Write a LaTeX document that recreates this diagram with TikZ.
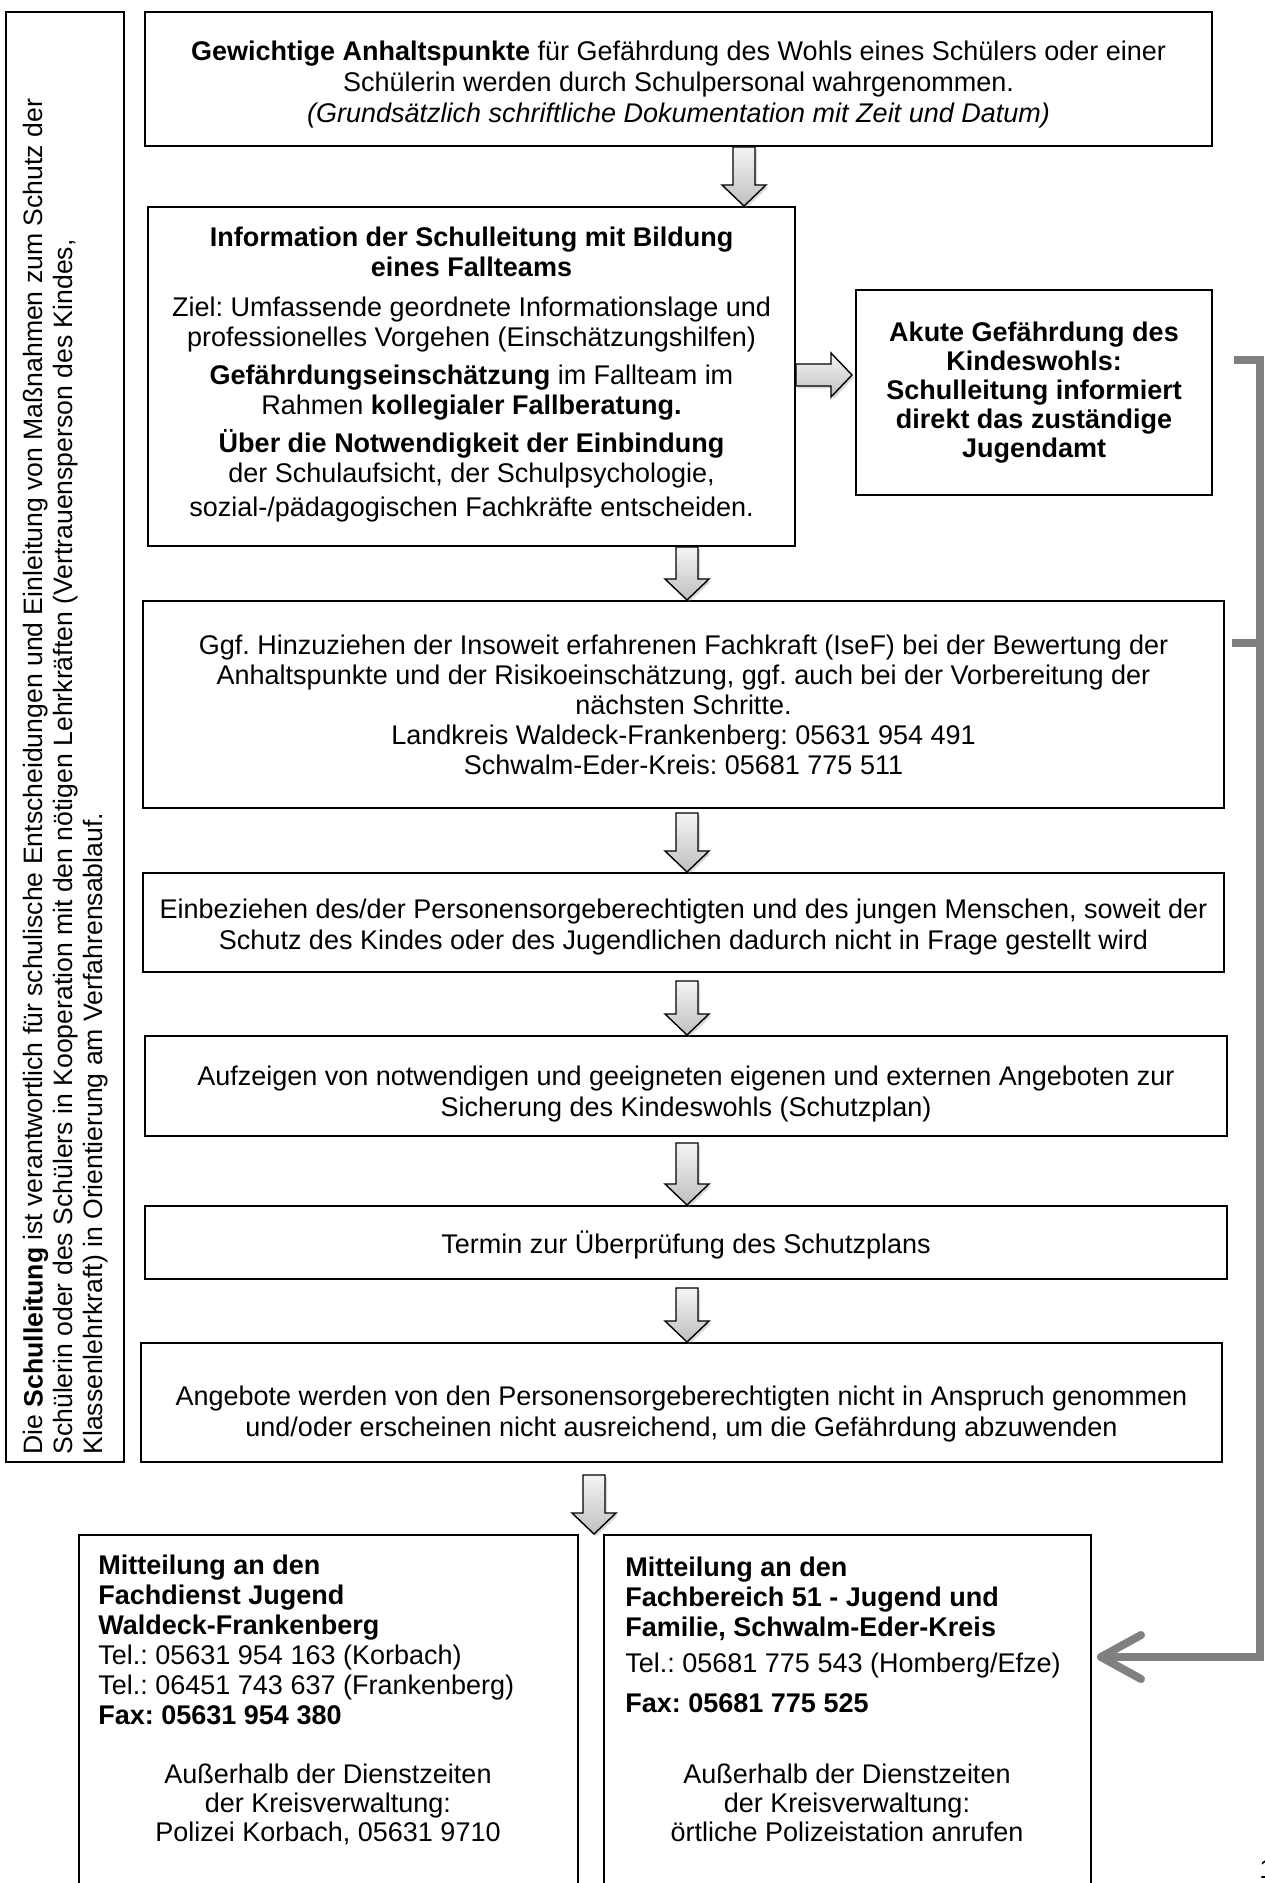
\documentclass[tikz,border=0pt]{standalone}
\usepackage{fontspec}
\setmainfont{Liberation Sans}
\frenchspacing
\usetikzlibrary{calc,arrows.meta,shadows}
\newcommand{\DArrow}[2]{%
  \path[barrow] let \p1=#1, \p2=#2 in
    (\x1-5.5pt,\y1) -- (\x1+5.5pt,\y1) -- (\x1+5.5pt,\y2+10.5pt) -- (\x1+11pt,\y2+10.5pt)
    -- (\x1,\y2) -- (\x1-11pt,\y2+10.5pt) -- (\x1-5.5pt,\y2+10.5pt) -- cycle;}
\newcommand{\RArrow}[2]{%
  \path[barrow] let \p1=#1, \p2=#2 in
    (\x1,\y1+5.5pt) -- (\x1,\y1-5.5pt) -- (\x2-10.5pt,\y1-5.5pt) -- (\x2-10.5pt,\y1-11pt)
    -- (\x2,\y1) -- (\x2-10.5pt,\y1+11pt) -- (\x2-10.5pt,\y1+5.5pt) -- cycle;}
\begin{document}
\begin{tikzpicture}[x=0.5pt,y=-0.5pt,
  every node/.style={font=\fontsize{13.5}{15.5}\selectfont, inner sep=0pt},
  box/.style={draw=black, line width=1pt, fill=white},
  btext/.style={align=center},
  barrow/.style={draw=black, line width=0.7pt, top color=gray!8, bottom color=gray!50,
     drop shadow={opacity=0.3, shadow xshift=1pt, shadow yshift=-1.2pt}},
  grayconn/.style={draw=gray, line width=4pt, line join=miter}]
\useasboundingbox (0,0) rectangle (1264,1883);

% boxes
\node[box, minimum width=59pt, minimum height=725pt] (left) at (65,737) {};
\node[rotate=90, anchor=north west, align=left, font=\fontsize{13.3}{15}\selectfont] (lefttext) at (23,1455)
  {Die \textbf{Schulleitung} ist verantwortlich für schulische Entscheidungen und Einleitung von Maßnahmen zum Schutz der\\
   Schülerin oder des Schülers in Kooperation mit den nötigen Lehrkräften (Vertrauensperson des Kindes,\\
   Klassenlehrkraft) in Orientierung am Verfahrensablauf.};

\node[box, minimum width=533.5pt, minimum height=67pt] (top) at (678.5,79) {};
\node[btext] (toptext) at ($(top.center)+(0,6)$)
  {\textbf{Gewichtige Anhaltspunkte} für Gefährdung des Wohls eines Schülers oder einer\\
   Schülerin werden durch Schulpersonal wahrgenommen.\\
   \textit{(Grundsätzlich schriftliche Dokumentation mit Zeit und Datum)}};

\node[box, minimum width=323.5pt, minimum height=169.5pt] (info) at (471.5,376.5) {};
\node[btext, font=\fontsize{13.5}{15}\selectfont] (infotext) at ($(info.center)+(0,-2)$)
  {\textbf{Information der Schulleitung mit Bildung}\\
   \textbf{eines Fallteams}\\[5pt]
   Ziel: Umfassende geordnete Informationslage und\\
   professionelles Vorgehen (Einschätzungshilfen)\\[4pt]
   \textbf{Gefährdungseinschätzung} im Fallteam im\\
   Rahmen \textbf{kollegialer Fallberatung.}\\[4pt]
   \textbf{Über die Notwendigkeit der Einbindung}\\
   der Schulaufsicht, der Schulpsychologie,\\[2pt]
   sozial-/pädagogischen Fachkräfte entscheiden.};

\node[box, minimum width=178pt, minimum height=102.5pt] (akute) at (1034,392.5) {};
\node[btext, font=\fontsize{13.5}{14.5}\selectfont\bfseries] (akutetext) at (akute.center)
  {Akute Gefährdung des\\ Kindeswohls:\\ Schulleitung informiert\\ direkt das zuständige\\ Jugendamt};

\node[box, minimum width=540.5pt, minimum height=103.5pt] (isef) at (683.5,704.5) {};
\node[btext, font=\fontsize{13.5}{15}\selectfont] (iseftext) at (isef.center)
  {Ggf. Hinzuziehen der Insoweit erfahrenen Fachkraft (IseF) bei der Bewertung der\\
   Anhaltspunkte und der Risikoeinschätzung, ggf. auch bei der Vorbereitung der\\
   nächsten Schritte.\\
   Landkreis Waldeck-Frankenberg: 05631 954 491\\
   Schwalm-Eder-Kreis: 05681 775 511};

\node[box, minimum width=540.5pt, minimum height=49.5pt] (einb) at (683.5,922.5) {};
\node[btext] (einbtext) at ($(einb.center)+(0,5)$)
  {Einbeziehen des/der Personensorgeberechtigten und des jungen Menschen, soweit der\\
   Schutz des Kindes oder des Jugendlichen dadurch nicht in Frage gestellt wird};

\node[box, minimum width=541pt, minimum height=50pt] (aufz) at (686,1086) {};
\node[btext] (aufztext) at ($(aufz.center)+(0,8)$)
  {Aufzeigen von notwendigen und geeigneten eigenen und externen Angeboten zur\\
   Sicherung des Kindeswohls (Schutzplan)};

\node[box, minimum width=541pt, minimum height=36.5pt] (termin) at (686,1242.5) {};
\node[btext] (termintext) at ($(termin.center)+(0,2)$)
  {Termin zur Überprüfung des Schutzplans};

\node[box, minimum width=540.5pt, minimum height=59.5pt] (angebote) at (681.5,1402.5) {};
\node[btext] (angebotetext) at ($(angebote.center)+(0,12)$)
  {Angebote werden von den Personensorgeberechtigten nicht in Anspruch genommen\\
   und/oder erscheinen nicht ausreichend, um die Gefährdung abzuwenden};

\node[box, minimum width=249.5pt, minimum height=180pt] (waldeck) at (328.5,1715) {};
\node[box, minimum width=243.5pt, minimum height=180pt] (schwalm) at (847.5,1715) {};

\node[anchor=north west, align=left, font=\fontsize{13.5}{15}\selectfont] (wtext) at (98,1555)
  {\textbf{Mitteilung an den}\\ \textbf{Fachdienst Jugend}\\ \textbf{Waldeck-Frankenberg}\\
   Tel.: 05631 954 163 (Korbach)\\ Tel.: 06451 743 637 (Frankenberg)\\ \textbf{Fax: 05631 954 380}};
\node[anchor=north, align=center, font=\fontsize{13.5}{14.5}\selectfont] (wtext2) at (328,1764)
  {Außerhalb der Dienstzeiten\\ der Kreisverwaltung:\\ Polizei Korbach, 05631 9710};

\node[anchor=north west, align=left, font=\fontsize{13.5}{15}\selectfont] (stext) at (625,1557)
  {\textbf{Mitteilung an den}\\ \textbf{Fachbereich 51 - Jugend und}\\ \textbf{Familie, Schwalm-Eder-Kreis}\\[3pt]
   Tel.: 05681 775 543 (Homberg/Efze)\\[5pt] \textbf{Fax: 05681 775 525}};
\node[anchor=north, align=center, font=\fontsize{13.5}{14.5}\selectfont] (stext2) at (847,1764)
  {Außerhalb der Dienstzeiten\\ der Kreisverwaltung:\\ örtliche Polizeistation anrufen};

\node[anchor=base west] (pnum) at (1259,1878) {1};

% arrow columns
\coordinate (c1) at (744,0);
\coordinate (c2) at (687,0);
\coordinate (c3) at (594,0);
\coordinate (r1) at (0,375);

\DArrow{(top.south -| c1)}{(info.north -| c1)}
\RArrow{(info.east |- r1)}{($(akute.west |- r1)+(-3,0)$)}
\DArrow{(info.south -| c2)}{(isef.north -| c2)}
\DArrow{($(isef.south -| c2)+(0,4)$)}{(einb.north -| c2)}
\DArrow{($(einb.south -| c2)+(0,8)$)}{(aufz.north -| c2)}
\DArrow{($(aufz.south -| c2)+(0,6)$)}{(termin.north -| c2)}
\DArrow{($(termin.south -| c2)+(0,8)$)}{(angebote.north -| c2)}
\DArrow{($(angebote.south -| c3)+(0,12)$)}{(waldeck.north -| c3)}

% gray feedback connector
\coordinate (g1) at (1234,360);
\coordinate (g2) at (1232,643);
\coordinate (gx) at (1260,0);
\coordinate (gy) at (0,1657);
\draw[grayconn, -{Straight Barb[length=20pt, width=22pt, round]}]
  (g1) -- (g1 -| gx) -- (gx |- gy) -- ($(schwalm.east |- gy)+(5,0)$);
\draw[grayconn] (g2) -- (g2 -| gx);
\end{tikzpicture}
\end{document}
